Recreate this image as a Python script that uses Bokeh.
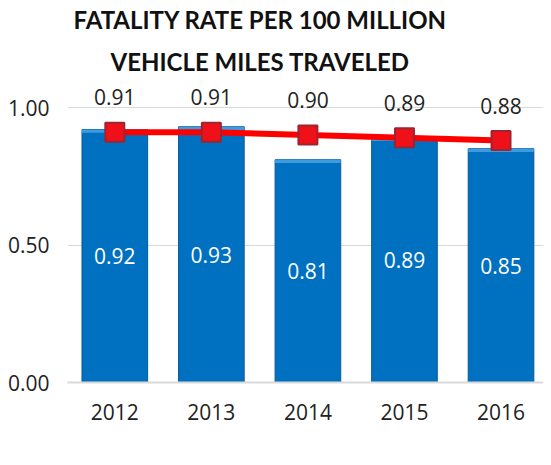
from bokeh.plotting import figure
from bokeh.models import (Range1d, FixedTicker, NumeralTickFormatter, Title, Legend,
                          LegendItem, ColumnDataSource)
from bokeh.embed import file_html
from bokeh.resources import INLINE

years = ["2012", "2013", "2014", "2015", "2016"]
fatality_rate = [0.92, 0.93, 0.81, 0.89, 0.85]
moving_avg = [0.91, 0.91, 0.90, 0.89, 0.88]
y_ticks = [0.0, 0.5, 1.0]

xs = list(range(len(years)))
FONT = "Open Sans"

src = ColumnDataSource(dict(
    x=xs, rate=fatality_rate, avg=moving_avg,
    rate_mid=[v / 2 for v in fatality_rate],
    rate_bev=[v - 0.012 for v in fatality_rate],
    rate_lbl=[f"{v:.2f}" for v in fatality_rate],
    avg_lbl=[f"{v:.2f}" for v in moving_avg],
))

p = figure(frame_width=476, frame_height=297, output_backend="svg", toolbar_location=None,
           x_range=Range1d(-0.49, 4.44), y_range=Range1d(0, 1.08),
           min_border_left=67, min_border_right=0, min_border_top=0, min_border_bottom=0)
p.outline_line_color = None
p.background_fill_color = "white"

# titles (added bottom line first)
for txt, off, so in [("VEHICLE MILES TRAVELED", 43, 19), ("FATALITY RATE PER 100 MILLION", 6, 4)]:
    t = Title(text=txt, align="left", text_font="Lato", text_font_size="24px",
              text_font_style="bold", text_color="#111111", offset=off, standoff=so)
    p.add_layout(t, "above")

bars = p.vbar(x="x", top="rate", bottom=0, width=0.68, source=src,
              fill_color="#0070C0", line_color="#0A5A9A", line_width=1)
# bevel highlight on top
p.vbar(x="x", top="rate", bottom="rate_bev", width=0.68,
       source=src, fill_color="#3D9BE0", line_color=None)

line = p.line(x="x", y="avg", source=src, line_color="#FF0000", line_width=6)
marks = p.scatter(x="x", y="avg", source=src, marker="square", size=19,
                  fill_color="#F0101A", line_color="#9B2530", line_width=2)

p.text(x="x", y="rate_mid", text="rate_lbl", source=src, text_color="white",
       text_font={"value": FONT}, text_font_size="21px", text_align="center",
       text_baseline="middle")
p.text(x="x", y="avg", text="avg_lbl", source=src, text_color="#222222",
       text_font={"value": FONT}, text_font_size="21px", text_align="center",
       text_baseline="middle", y_offset=-35)

p.xaxis.ticker = FixedTicker(ticks=xs)
p.xaxis.major_label_overrides = {i: y for i, y in enumerate(years)}
p.xaxis.major_tick_line_color = None
p.xaxis.minor_tick_line_color = None
p.xaxis.axis_line_color = "#D9D9D9"
p.xaxis.axis_line_width = 2
p.xaxis.major_label_standoff = 15
p.xaxis.major_label_text_font = FONT
p.xaxis.major_label_text_font_size = "21px"
p.xaxis.major_label_text_color = "#222222"

p.yaxis.ticker = FixedTicker(ticks=y_ticks)
p.yaxis.formatter = NumeralTickFormatter(format="0.00")
p.yaxis.major_tick_line_color = None
p.yaxis.minor_tick_line_color = None
p.yaxis.axis_line_color = None
p.yaxis.major_label_standoff = 12
p.yaxis.major_label_text_font = FONT
p.yaxis.major_label_text_font_size = "21px"
p.yaxis.major_label_text_color = "#222222"

p.xgrid.grid_line_color = None
p.ygrid.ticker = FixedTicker(ticks=y_ticks)
p.ygrid.grid_line_color = "#D9D9D9"
p.ygrid.grid_line_width = 1

legend = Legend(items=[LegendItem(label="Fatality Rate", renderers=[bars]),
                       LegendItem(label="5 Yr Moving Avg", renderers=[line, marks])],
                orientation="horizontal", location="left",
                glyph_width=48, glyph_height=16, spacing=18,
                label_text_font=FONT, label_text_font_size="21px",
                label_text_color="#222222", border_line_color=None,
                background_fill_alpha=0, padding=6, margin=0, label_standoff=5)
p.add_layout(legend, "below")

open("out.html", "w").write(file_html(p, INLINE))
